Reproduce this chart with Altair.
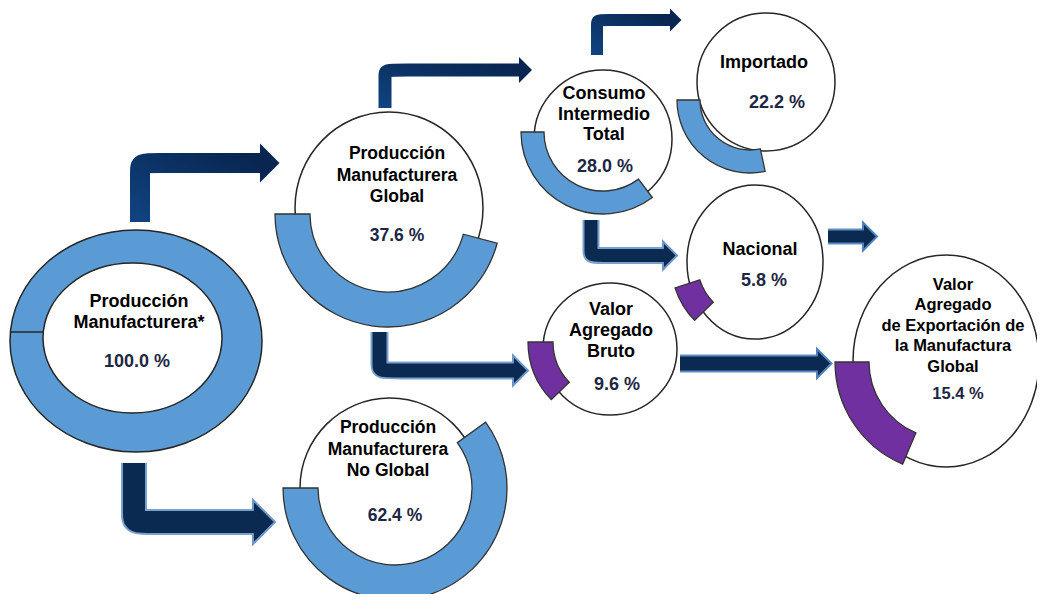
import math
import altair as alt
import pandas as pd

# ---------------- data ----------------
node_labels = [
    ["Producción", "Manufacturera*"],
    ["Producción", "Manufacturera", "Global"],
    ["Consumo", "Intermedio", "Total"],
    ["Importado"],
    ["Nacional"],
    ["Valor", "Agregado", "Bruto"],
    ["Valor", "Agregado", "de Exportación de", "la Manufactura", "Global"],
    ["Producción", "Manufacturera", "No Global"],
]
node_values = [100.0, 37.6, 28.0, 22.2, 5.8, 9.6, 15.4, 62.4]
node_group = ["Producción", "Producción", "Consumo intermedio", "Consumo intermedio",
              "Valor agregado", "Valor agregado", "Valor agregado", "Producción"]

# ---------------- layout (positions / sizes, image pixels) ----------------
# node 0: full ring drawn as two ellipses (outer, inner)
ring0_outer = (136, 341, 126, 111)
ring0_inner = (132.5, 338, 89.5, 75)
ring0_seam_y = 332
# white circles for nodes 1..7 (cx, cy, rx, ry)
circ = [None, (389, 208, 94, 96), (603, 139, 69, 69), (766, 82, 69, 69),
        (755, 262, 68, 77), (610, 349, 67, 66), (946, 361, 93, 106), (390, 488, 90, 90)]
# partial rings for nodes 1..7 (cx, cy, r_in, r_out, theta_start, theta_end) in degrees
ring = [None, (388, 214, 78, 113, 105, 270), (603, 132, 59, 82, 143, 270),
        (750, 100, 50, 73, 168, 270), (755, 262, 58, 84, 226, 252),
        (611, 342, 58, 83, 226, 270), (946, 362, 77, 111, 203, 270),
        (395, 488, 77, 112, 54, 270)]
label_x = [139, 397, 604, 764, 760, 611, 953, 388]
label_y0 = [307, 159, 99, 68, 255, 315, 290, 433]
label_lh = [20.5, 21.5, 20.5, 0, 0, 21, 20.4, 21.5]
value_x = [137, 397, 605, 777, 764, 617, 958, 395]
value_y = [367, 241, 172, 108, 286, 390, 399, 521]
font_size = [18, 17.5, 18, 18, 18, 18, 16.5, 17.5]

# arrows: path points (corner repeated for a rounded bend), shaft width, head half-height, style
arrow_paths = [
    [(140, 222), (140, 163), (140, 163), (261, 163)],
    [(385, 108), (385, 70), (385, 70), (520, 70)],
    [(597, 55), (597, 20), (597, 20), (671, 20)],
    [(591, 220), (591, 255.5), (591, 255.5), (664, 255.5)],
    [(379.5, 332), (379.5, 370.5), (379.5, 370.5), (514, 370.5)],
    [(134, 463), (134, 522), (134, 522), (254, 522)],
    [(828, 236.5), (864, 236.5)],
    [(680, 363.5), (818, 363.5)],
]
arrow_width = [20, 13, 12, 13, 14, 22, 12, 14]
arrow_head = [19.5, 13, 11.5, 14, 15, 22, 14, 14.5]
arrow_style = ["top", "top", "top", "glow", "glow", "glow", "border", "border"]

group_color = {"Producción": "#5B9BD5", "Consumo intermedio": "#5B9BD5", "Valor agregado": "#7030A0"}
LABEL_COLOR = "#000000"
VALUE_COLOR = "#1d2744"
FONT = "Liberation Sans"

xs = alt.Scale(domain=[8, 1037], nice=False, zero=False)
ys = alt.Scale(domain=[8, 594], nice=False, zero=False, reverse=True)


def X(f="x"):
    return alt.X(f"{f}:Q", scale=xs, axis=None)


def Y(f="y"):
    return alt.Y(f"{f}:Q", scale=ys, axis=None)


def ellipse_path(rx, ry):
    return f"M{-rx},0A{rx},{ry} 0 1,0 {rx},0A{rx},{ry} 0 1,0 {-rx},0Z"


# ---------- ellipses ----------
ell_rows = []
cx, cy, rx, ry = ring0_outer
ell_rows.append(dict(x=cx, y=cy, shape=ellipse_path(rx, ry), fill=group_color[node_group[0]], o=0))
cx, cy, rx, ry = ring0_inner
ell_rows.append(dict(x=cx, y=cy, shape=ellipse_path(rx, ry), fill="white", o=1))
for i in range(1, len(node_values)):
    cx, cy, rx, ry = circ[i]
    ell_rows.append(dict(x=cx, y=cy, shape=ellipse_path(rx, ry), fill="white", o=i + 1))
ell_df = pd.DataFrame(ell_rows)
ellipses = alt.Chart(ell_df).mark_point(filled=True, opacity=1, stroke="#262626", strokeWidth=1.5).encode(
    x=X(), y=Y(),
    shape=alt.Shape("shape:N", scale=None),
    fill=alt.Fill("fill:N", scale=None),
    size=alt.value(4),
    order=alt.Order("o:Q"),
)

seam_df = pd.DataFrame([dict(x=ring0_outer[0] - ring0_outer[2], x2=ring0_inner[0] - ring0_inner[2], y=ring0_seam_y)])
seam = alt.Chart(seam_df).mark_rule(color="#262626", strokeWidth=1.5).encode(
    x=X(), x2="x2:Q", y=Y())

# ---------- partial rings ----------
arc_rows = []
for i in range(1, len(node_values)):
    cx, cy, rin, rout, t0, t1 = ring[i]
    arc_rows.append(dict(x=cx, y=cy, rin=rin, rout=rout,
                         t0=math.radians(t0), t1=math.radians(t1),
                         fill=group_color[node_group[i]], value=node_values[i]))
arc_df = pd.DataFrame(arc_rows)
arcs = alt.Chart(arc_df).mark_arc(stroke="#333333", strokeWidth=1.3).encode(
    x=X(), y=Y(),
    theta=alt.Theta("t0:Q", scale=None, stack=None),
    theta2="t1:Q",
    radius=alt.Radius("rout:Q", scale=None),
    radius2="rin:Q",
    fill=alt.Fill("fill:N", scale=None),
)

# ---------- arrows ----------
NAVY = "#0a2a52"
top_grad = {"gradient": "linear", "x1": 0, "y1": 1, "x2": 1, "y2": 0,
            "stops": [{"offset": 0, "color": "#104380"}, {"offset": 1, "color": "#082650"}]}
arrow_layers = []
for pts, w, h, style in zip(arrow_paths, arrow_width, arrow_head, arrow_style):
    df = pd.DataFrame([dict(x=p[0], y=p[1], o=k) for k, p in enumerate(pts)])
    hx, hy = pts[-1][0] - 1, pts[-1][1]
    hdf = pd.DataFrame([dict(x=hx, y=hy)])
    head_shape = "M0,-1L1,0L0,1Z"
    if style == "top":
        arrow_layers.append(alt.Chart(df).mark_line(stroke=top_grad, strokeWidth=w, strokeJoin="round",
                                                     interpolate="basis",
                                                     strokeCap="butt").encode(x=X(), y=Y(), order="o:Q"))
        arrow_layers.append(alt.Chart(hdf).mark_point(shape=head_shape, filled=True, opacity=1,
                                                      fill="#082650", strokeWidth=0,
                                                      size=(2 * h) ** 2).encode(x=X(), y=Y()))
    else:
        bcol = "#6e96c6" if style == "glow" else "#4f81bd"
        arrow_layers.append(alt.Chart(df).mark_line(stroke=bcol, strokeWidth=w + 4, strokeJoin="round",
                                                     interpolate="basis",
                                                     strokeCap="butt", opacity=0.9).encode(x=X(), y=Y(), order="o:Q"))
        arrow_layers.append(alt.Chart(hdf).mark_point(shape=head_shape, filled=True, opacity=1,
                                                      fill=NAVY, stroke=bcol, strokeWidth=2,
                                                      size=(2 * h) ** 2).encode(x=X(), y=Y()))
        arrow_layers.append(alt.Chart(df).mark_line(stroke=NAVY, strokeWidth=w, strokeJoin="round",
                                                     interpolate="basis",
                                                     strokeCap="butt").encode(x=X(), y=Y(), order="o:Q"))

# ---------- texts ----------
txt_rows = []
for i, lines in enumerate(node_labels):
    for k, line in enumerate(lines):
        txt_rows.append(dict(x=label_x[i], y=label_y0[i] + k * label_lh[i], text=line,
                             fs=font_size[i], col=LABEL_COLOR))
    txt_rows.append(dict(x=value_x[i], y=value_y[i], text=f"{node_values[i]:.1f} %",
                         fs=font_size[i], col=VALUE_COLOR))
txt_df = pd.DataFrame(txt_rows)
texts = alt.Chart(txt_df).mark_text(font=FONT, fontWeight="bold", align="center",
                                    baseline="alphabetic").encode(
    x=X(), y=Y(), text="text:N",
    size=alt.Size("fs:Q", scale=None),
    color=alt.Color("col:N", scale=None),
)

chart = alt.layer(ellipses, seam, arcs, *arrow_layers, texts).properties(
    width=1029, height=586, padding=0,
    autosize=alt.AutoSizeParams(type="none"),
    background="white",
).configure_view(strokeWidth=0, stroke=None)

chart.save("out.html", embed_options={"renderer": "svg", "actions": False})
